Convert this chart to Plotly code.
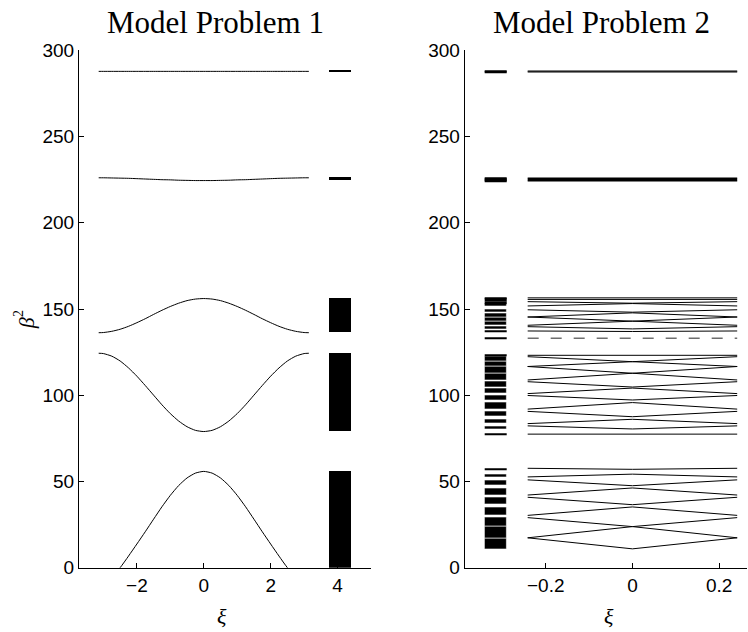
import plotly.graph_objects as go

# ---------------- Model Problem 1: dispersion curves ----------------
XI_HALF = [0.0, 0.25, 0.5, 0.75, 1.0, 1.25, 1.5, 1.75, 2.0, 2.25, 2.5, 2.75, 3.0, 3.1416]
MP1_BAND1_HALF = [55.9, 54.9, 52.1, 47.7, 42.0, 35.4, 28.2, 20.9, 13.8, 6.8, 0.1, -5.0, -8.5, -9.5]
MP1_BAND2_HALF = [79.0, 79.7, 81.8, 85.1, 89.4, 94.5, 100.1, 105.7, 111.1, 115.9, 119.9, 122.7, 124.2, 124.4]
MP1_BAND3_HALF = [156.1, 155.8, 154.9, 153.4, 151.5, 149.3, 146.9, 144.4, 142.1, 140.0, 138.3, 137.1, 136.4, 136.3]
MP1_BAND4_HALF = [224.5, 224.5, 224.6, 224.7, 224.9, 225.0, 225.2, 225.4, 225.6, 225.8, 225.9, 226.0, 226.1, 226.1]
MP1_BAND5_HALF = [287.8] * len(XI_HALF)


def mirrored(xs, ys):
    """Curves are even in xi: extend the half-zone samples to the full zone."""
    return [-x for x in xs[:0:-1]] + list(xs), list(ys[:0:-1]) + list(ys)


XI, _ = mirrored(XI_HALF, XI_HALF)
MP1_BANDS = [mirrored(XI_HALF, b)[1] for b in
             (MP1_BAND1_HALF, MP1_BAND2_HALF, MP1_BAND3_HALF, MP1_BAND4_HALF, MP1_BAND5_HALF)]

# ---------------- Model Problem 2: folded supercell bands ----------------
ZONE_EDGE = 0.2417  # pi / 13
# folded bands, grouped by the parent band: value at the zone edge / at xi = 0
MP2_EDGE_1 = [17.4, 17.4, 29.1, 30.4, 40.9, 42.2, 51.0, 52.7, 57.7]
MP2_CENTER_1 = [11.0, 23.9, 23.9, 35.3, 36.6, 46.3, 47.6, 54.3, 57.1]
MP2_EDGE_2 = [77.5, 82.3, 83.6, 90.7, 92.0, 99.9, 101.0, 107.9, 108.9, 116.7, 116.7, 122.4, 123.2]
MP2_CENTER_2 = [77.5, 80.5, 86.1, 87.6, 95.8, 97.3, 104.2, 104.8, 112.8, 112.8, 119.5, 119.5, 123.4]
MP2_EDGE_3 = [137.3, 139.8, 140.6, 145.4, 145.4, 149.6, 151.8, 154.3, 155.6, 156.5]
MP2_CENTER_3 = [137.0, 138.5, 143.0, 143.0, 147.8, 148.2, 153.2, 153.4, 155.4, 156.6]
MP2_EDGE_4 = [224.4, 225.1, 225.8]
MP2_CENTER_4 = [224.4, 225.1, 225.8]
MP2_EDGE_5 = [287.5, 288.0]
MP2_CENTER_5 = [287.5, 288.0]
MP2_GROUPS = [(MP2_EDGE_1, MP2_CENTER_1), (MP2_EDGE_2, MP2_CENTER_2), (MP2_EDGE_3, MP2_CENTER_3),
              (MP2_EDGE_4, MP2_CENTER_4), (MP2_EDGE_5, MP2_CENTER_5)]
MP2_DEFECT = 133.1

# spectrum strips (band ranges) positions
MP1_STRIP = (3.74, 4.39)
MP2_STRIP = (-0.340, -0.289)

W, H = 748, 632
L1, R1 = 79, 371
L2, R2 = 464.7, 747.3
TOP, BOT = 41.7, 577
MIN_H = 1.1

fig = go.Figure()

# ---- left panel curves
for band in MP1_BANDS:
    fig.add_trace(go.Scatter(x=XI, y=band, mode="lines",
                             line=dict(color="black", width=1, shape="spline", smoothing=0.6),
                             xaxis="x", yaxis="y", showlegend=False, hoverinfo="skip"))

# ---- left panel spectrum strip
base1, hgt1 = [], []
for b in MP1_BANDS:
    lo, hi = max(min(b), 0.0), max(b)
    if hi - lo < MIN_H:
        mid = (lo + hi) / 2
        lo, hi = mid - MIN_H / 2, mid + MIN_H / 2
    base1.append(lo)
    hgt1.append(hi - lo)
c1 = (MP1_STRIP[0] + MP1_STRIP[1]) / 2
fig.add_trace(go.Bar(x=[c1] * len(base1), y=hgt1, base=base1, width=MP1_STRIP[1] - MP1_STRIP[0],
                     marker=dict(color="black", line=dict(width=0)), xaxis="x", yaxis="y",
                     showlegend=False, hoverinfo="skip"))

# ---- right panel folded bands
group_width = [1, 1, 1, 1.6, 1.2]
for (edges, centers), lw in zip(MP2_GROUPS, group_width):
    xs, ys = [], []
    for e, c in zip(edges, centers):
        xs += [-ZONE_EDGE, 0.0, ZONE_EDGE, None]
        ys += [e, c, e, None]
    fig.add_trace(go.Scatter(x=xs, y=ys, mode="lines", line=dict(color="black", width=lw),
                             xaxis="x2", yaxis="y2", showlegend=False, hoverinfo="skip"))
fig.add_trace(go.Scatter(x=[-ZONE_EDGE, ZONE_EDGE], y=[MP2_DEFECT, MP2_DEFECT], mode="lines",
                         line=dict(color="#6e6e6e", width=1.5, dash="11px,12px"),
                         xaxis="x2", yaxis="y2", showlegend=False, hoverinfo="skip"))

# ---- right panel spectrum strip
base2, hgt2, lw2 = [], [], []
pairs = [p for edges, centers in MP2_GROUPS for p in zip(edges, centers)] + [(MP2_DEFECT, MP2_DEFECT)]
for e, c in pairs:
    lo, hi = min(e, c), max(e, c)
    if hi - lo < MIN_H:
        mid = (lo + hi) / 2
        lo, hi = mid - MIN_H / 2, mid + MIN_H / 2
        lw2.append(0)
    else:
        lw2.append(0.6)
    base2.append(lo)
    hgt2.append(hi - lo)
c2 = (MP2_STRIP[0] + MP2_STRIP[1]) / 2
fig.add_trace(go.Bar(x=[c2] * len(base2), y=hgt2, base=base2, width=MP2_STRIP[1] - MP2_STRIP[0],
                     marker=dict(color="black", line=dict(width=lw2, color="white")), xaxis="x2", yaxis="y2",
                     showlegend=False, hoverinfo="skip"))

tickfont = dict(family="Liberation Sans, Arial, sans-serif", size=19, color="black")
axis_common = dict(showgrid=False, zeroline=False, showline=True, linecolor="black", linewidth=1,
                   ticks="inside", ticklen=5, tickcolor="black", tickfont=tickfont, mirror=False)

ydom = [1 - BOT / H, 1 - TOP / H]
fig.update_layout(
    width=W, height=H, margin=dict(l=0, r=0, t=0, b=0),
    paper_bgcolor="white", plot_bgcolor="white", barmode="overlay", bargap=0,
    xaxis=dict(domain=[L1 / W, R1 / W], range=[-3.73, 5.0], tickvals=[-2, 0, 2, 4], anchor="y", **axis_common),
    yaxis=dict(domain=ydom, range=[0, 300], tickvals=[0, 50, 100, 150, 200, 250, 300], anchor="x", **axis_common),
    xaxis2=dict(domain=[L2 / W, R2 / W], range=[-0.387, 0.265], tickvals=[-0.2, 0, 0.2], anchor="y2", **axis_common),
    yaxis2=dict(domain=ydom, range=[0, 300], tickvals=[0, 50, 100, 150, 200, 250, 300], anchor="x2", **axis_common),
)

serif = "Liberation Serif, Times New Roman, serif"
ann = [
    dict(text="Model Problem 1", x=(L1 + R1) / 2 - 10, y=13, size=31, style="normal", angle=0),
    dict(text="Model Problem 2", x=(L2 + R2) / 2 - 5, y=13, size=31, style="normal", angle=0),
    dict(text="ξ", x=(L1 + R1) / 2 - 3, y=627, size=22, style="italic", angle=0),
    dict(text="ξ", x=(L2 + R2) / 2 + 3, y=627, size=22, style="italic", angle=0),
    # y-axis label: beta with a raised upright 2, rotated to read upwards
    dict(text="β", x=26, y=324, size=22, style="italic", angle=-90),
    dict(text="2", x=18, y=314.5, size=14, style="normal", angle=-90),
]
for a in ann:
    fig.add_annotation(text=a["text"], x=a["x"] / W, y=1 - a["y"] / H, xref="paper", yref="paper",
                       xanchor="center", yanchor="middle", showarrow=False, textangle=a["angle"],
                       font=dict(family=serif, size=a["size"], color="black", style=a["style"]))

fig.write_html("out.html")
